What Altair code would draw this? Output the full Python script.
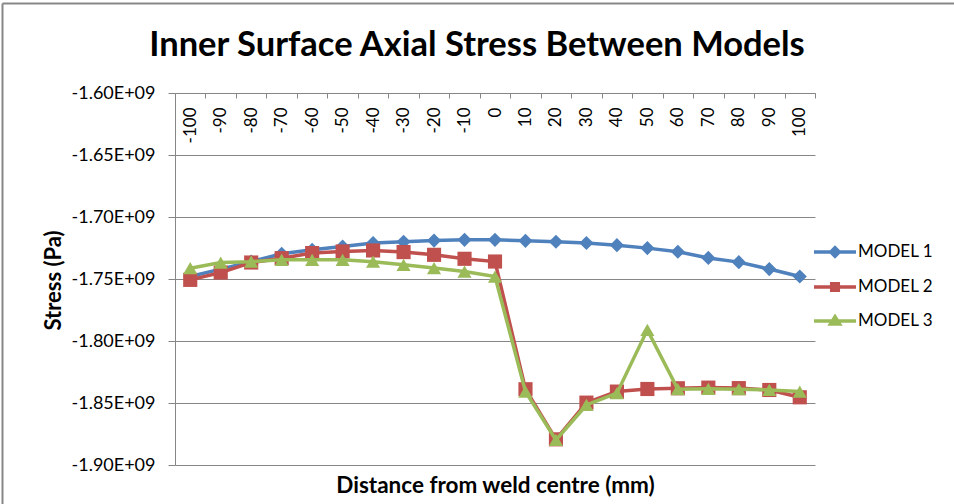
import altair as alt
import pandas as pd

# Distance from weld centre (mm) and inner-surface axial stress (Pa) per model
distance = [-100, -90, -80, -70, -60, -50, -40, -30, -20, -10, 0,
            10, 20, 30, 40, 50, 60, 70, 80, 90, 100]
model_1 = [-1.748e9, -1.742e9, -1.736e9, -1.7297e9, -1.7265e9, -1.7238e9, -1.721e9,
           -1.720e9, -1.719e9, -1.7184e9, -1.7184e9, -1.7192e9, -1.720e9, -1.721e9,
           -1.7227e9, -1.7251e9, -1.728e9, -1.733e9, -1.7364e9, -1.742e9, -1.748e9]
model_2 = [-1.7507e9, -1.7448e9, -1.7367e9, -1.7332e9, -1.7291e9, -1.7278e9, -1.727e9,
           -1.7283e9, -1.7305e9, -1.7337e9, -1.7359e9, -1.8389e9, -1.8793e9, -1.8497e9,
           -1.8408e9, -1.8387e9, -1.8381e9, -1.8376e9, -1.838e9, -1.8395e9, -1.8454e9]
model_3 = [-1.7413e9, -1.7367e9, -1.736e9, -1.7345e9, -1.7345e9, -1.7345e9, -1.736e9,
           -1.7386e9, -1.7412e9, -1.744e9, -1.748e9, -1.8408e9, -1.8798e9, -1.8516e9,
           -1.8421e9, -1.791e9, -1.8389e9, -1.8386e9, -1.8389e9, -1.8395e9, -1.8408e9]

series_names = ["MODEL 1", "MODEL 2", "MODEL 3"]
series_colors = ["#4F81BD", "#C0504D", "#9BBB59"]
marker_shapes = ["diamond", "square", "triangle-up"]
y_ticks = [-1.90e9, -1.85e9, -1.80e9, -1.75e9, -1.70e9, -1.65e9, -1.60e9]

# Legend glyphs: a short line segment with the series marker on it
legend_glyphs = [
    "M-2.1,0H2.1M0,-0.42L0.42,0L0,0.42L-0.42,0Z",
    "M-2.1,0H2.1M-0.33,-0.33H0.33V0.33H-0.33Z",
    "M-2.1,0H2.1M0,-0.42L0.45,0.3L-0.45,0.3Z",
]

rows = []
for name, values in zip(series_names, [model_1, model_2, model_3]):
    for d, v in zip(distance, values):
        rows.append({"Distance": d, "Stress": v, "Model": name})
df = pd.DataFrame(rows)

FONT = "Lato"
W, H = 640, 372
GRID = "#868686"

x_enc = alt.X(
    "Distance:O",
    scale=alt.Scale(type="band", domain=distance, paddingInner=0, paddingOuter=0),
    axis=alt.Axis(
        orient="bottom", offset=-H, labelAngle=270, tickBand="extent",
        tickSize=5, tickColor=GRID, domainColor=GRID, domainWidth=1,
        labelPadding=9, labelFont=FONT, labelFontSize=17, labelColor="black",
        grid=False,
        title="Distance from weld centre (mm)", titleFont=FONT, titleFontSize=22.5,
        titleFontWeight="bold", titleColor="black", titleY=399,
        titleBaseline="alphabetic",
    ),
)
y_enc = alt.Y(
    "Stress:Q",
    scale=alt.Scale(domain=[-1.90e9, -1.60e9], nice=False, zero=False),
    axis=alt.Axis(
        values=y_ticks,
        labelExpr="(datum.value < 0 ? '-' : '') + format(abs(datum.value) / 1e9, '.2f') + 'E+09'",
        grid=True, gridColor=GRID, gridWidth=1,
        domainColor=GRID, tickColor=GRID, tickSize=7, labelPadding=13,
        labelFont=FONT, labelFontSize=18, labelColor="black",
        title="Stress (Pa)", titleFont=FONT, titleFontSize=22, titleFontWeight="bold",
        titleColor="black", titleAngle=270, titleX=-122, titleY=187,
        titleAlign="center", titleBaseline="middle",
    ),
)

base = alt.Chart(df).encode(x=x_enc, y=y_enc)

layers = []
for name, color, shape in zip(series_names, series_colors, marker_shapes):
    sub = base.transform_filter(alt.datum.Model == name)
    layers.append(sub.mark_line(color=color, strokeWidth=3.5))
    layers.append(sub.mark_point(shape=shape, filled=True, color=color, size=200, opacity=1))

legend = alt.Legend(
    orient="none", legendX=648, legendY=147, title=None, padding=0,
    symbolSize=400, symbolStrokeWidth=3.5, labelOffset=11, rowPadding=11,
    labelFont=FONT, labelFontSize=17, labelColor="black",
)
legend_layer = base.transform_filter("false").mark_point(
    filled=True, strokeWidth=3.5, opacity=1
).encode(
    fill=alt.Fill("Model:N", scale=alt.Scale(domain=series_names, range=series_colors), legend=legend),
    stroke=alt.Stroke("Model:N", scale=alt.Scale(domain=series_names, range=series_colors), legend=legend),
    shape=alt.Shape("Model:N", scale=alt.Scale(domain=series_names, range=legend_glyphs), legend=legend),
)
layers.append(legend_layer)

# Chart-area frame along the left and top edges
frame = pd.DataFrame({"k": [0]})
layers.append(alt.Chart(frame).mark_rule(color="#878787", strokeWidth=2).encode(
    x=alt.value(-172.5), y=alt.value(-89.5), y2=alt.value(420)))
layers.append(alt.Chart(frame).mark_rule(color="#878787", strokeWidth=2).encode(
    y=alt.value(-89.5), x=alt.value(-172.5), x2=alt.value(790)))

chart = alt.layer(*layers).properties(
    width=W, height=H,
    autosize=alt.AutoSizeParams(type="none"),
    padding={"left": 175, "top": 93, "right": 139, "bottom": 39},
    title=alt.TitleParams(
        "Inner Surface Axial Stress Between Models", font=FONT, fontSize=34.5,
        fontWeight="bold", color="black", anchor="middle", dx=-18, offset=0,
        baseline="alphabetic", dy=87.5,
    ),
    background="white",
).configure_view(stroke=None)

chart.save("out.html", embed_options={"renderer": "svg", "actions": False})
